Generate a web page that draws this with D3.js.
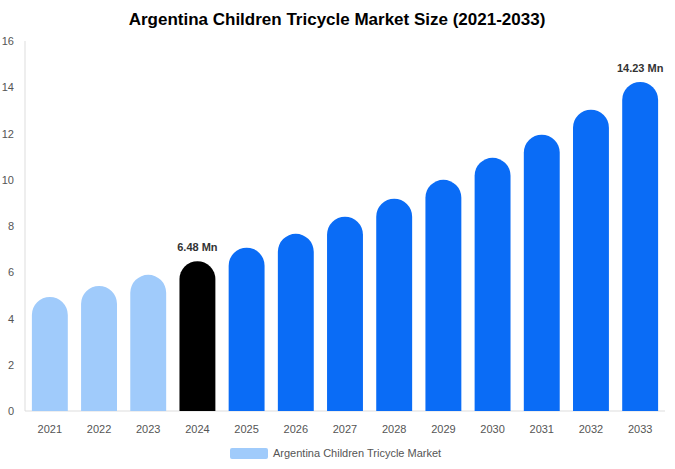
<!DOCTYPE html>
<html><head><meta charset="utf-8">
<script src="https://cdn.jsdelivr.net/npm/d3@7"></script>
<style>body{margin:0;background:#fff;font-family:Arial,"Liberation Sans",sans-serif}</style>
</head><body><svg id="c" width="675" height="469"></svg>
<script>
// values
var years = ["2021","2022","2023","2024","2025","2026","2027","2028","2029","2030","2031","2032","2033"];
var sizes = [4.93, 5.41, 5.89, 6.48, 7.06, 7.66, 8.4, 9.18, 10.0, 10.95, 11.95, 13.03, 14.23];
var yTicks = [0, 2, 4, 6, 8, 10, 12, 14, 16];
var labelled = {"2024": "6.48 Mn", "2033": "14.23 Mn"};

var svg = d3.select("#c");
var plotLeft = 25, plotRight = 665, plotTop = 41, plotBottom = 411;

var x = d3.scaleBand().domain(years).range([plotLeft, plotRight]).paddingInner(0.27).paddingOuter(0.14);
var y = d3.scaleLinear().domain([0, 16]).range([plotBottom, plotTop]);

svg.append("text").attr("x", 337).attr("y", 25).attr("text-anchor", "middle")
  .attr("font-size", "17px").attr("font-weight", "bold").attr("fill", "#000")
  .text("Argentina Children Tricycle Market Size (2021-2033)");

// axes lines
svg.append("line").attr("x1", plotLeft).attr("x2", plotLeft).attr("y1", plotTop).attr("y2", plotBottom).attr("stroke", "#ddd");
svg.append("line").attr("x1", plotLeft).attr("x2", plotRight).attr("y1", plotBottom).attr("y2", plotBottom).attr("stroke", "#ddd");

svg.selectAll(".yt").data(yTicks).enter().append("text")
  .attr("x", 14).attr("y", function (d) { return y(d) + 4; })
  .attr("text-anchor", "end").attr("font-size", "11px").attr("fill", "#555")
  .text(function (d) { return d; });

function color(yr) {
  if (+yr < 2024) return "#a0cbfb";
  if (+yr === 2024) return "#000000";
  return "#0a6cf6";
}

// bars with rounded top cap
svg.selectAll(".bar").data(years).enter().append("path")
  .attr("fill", function (d) { return color(d); })
  .attr("d", function (d, i) {
    var w = x.bandwidth(), r = w / 2, x0 = x(d), yt = y(sizes[i]);
    return "M" + x0 + "," + plotBottom + "V" + (yt + r) +
      "A" + r + "," + r + " 0 0 1 " + (x0 + w) + "," + (yt + r) + "V" + plotBottom + "Z";
  });

svg.selectAll(".xl").data(years).enter().append("text")
  .attr("x", function (d) { return x(d) + x.bandwidth() / 2; }).attr("y", 433)
  .attr("text-anchor", "middle").attr("font-size", "11px").attr("fill", "#555")
  .text(function (d) { return d; });

svg.selectAll(".vl").data(years.filter(function (d) { return labelled[d]; })).enter().append("text")
  .attr("x", function (d) { return x(d) + x.bandwidth() / 2; })
  .attr("y", function (d) { return y(sizes[years.indexOf(d)]) - 10; })
  .attr("text-anchor", "middle").attr("font-size", "11px").attr("font-weight", "bold").attr("fill", "#333")
  .text(function (d) { return labelled[d]; });

// legend
svg.append("rect").attr("x", 230).attr("y", 448).attr("width", 38).attr("height", 11).attr("rx", 2).attr("fill", "#a0cbfb");
svg.append("text").attr("x", 273).attr("y", 457).attr("font-size", "11px").attr("fill", "#555")
  .text("Argentina Children Tricycle Market");
</script></body></html>
